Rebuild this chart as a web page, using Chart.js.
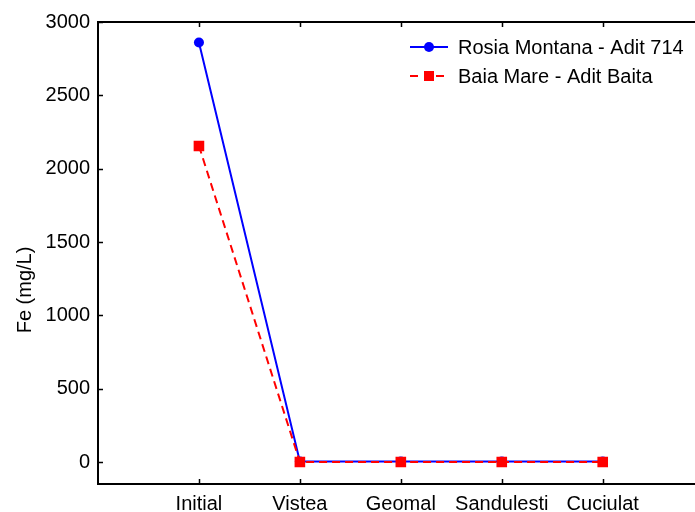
<!DOCTYPE html>
<html>
<head>
<meta charset="utf-8">
<script src="https://cdn.jsdelivr.net/npm/chart.js@4.4.1/dist/chart.umd.min.js"></script>
<style>
  html, body { margin: 0; padding: 0; background: #fff; }
  #wrap { width: 695px; height: 512px; }
</style>
</head>
<body>
<div id="wrap"><canvas id="myChart" width="695" height="512"></canvas></div>
<script>
// data
const categories = ['Initial', 'Vistea', 'Geomal', 'Sandulesti', 'Cuciulat'];
const rosiaValues = [2860, 3, 3, 3, 3];   // Rosia Montana - Adit 714
const baiaValues = [2155, 0, 0, 0, 0];    // Baia Mare - Adit Baita
const yTickValues = [0, 500, 1000, 1500, 2000, 2500, 3000];

const FONT = 'Arial, "Liberation Sans", sans-serif';

function toPoints(values) {
    return values.map((v, i) => ({ x: i + 1, y: v }));
}

// axes frame, inward ticks, legend and y title
const framePlugin = {
    id: 'frame',
    afterDraw(chart) {
        const ctx = chart.ctx;
        const area = chart.chartArea;
        const xs = chart.scales.x;
        const ys = chart.scales.y;
        ctx.save();
        ctx.strokeStyle = '#000';
        ctx.lineWidth = 2;
        ctx.beginPath();
        ctx.moveTo(area.left, area.top);
        ctx.lineTo(chart.width, area.top);
        ctx.moveTo(area.left, area.top - 1);
        ctx.lineTo(area.left, area.bottom + 1);
        ctx.moveTo(area.left, area.bottom);
        ctx.lineTo(chart.width, area.bottom);
        ctx.stroke();

        ctx.lineWidth = 1.5;
        ctx.beginPath();
        yTickValues.forEach(v => {
            const y = Math.round(ys.getPixelForValue(v)) + 0.5;
            ctx.moveTo(area.left, y);
            ctx.lineTo(area.left + 5, y);
        });
        categories.forEach((c, i) => {
            const x = Math.round(xs.getPixelForValue(i + 1)) + 0.5;
            ctx.moveTo(x, area.bottom);
            ctx.lineTo(x, area.bottom - 5);
            ctx.moveTo(x, area.top);
            ctx.lineTo(x, area.top + 5);
        });
        ctx.stroke();

        // legend
        const items = chart.data.datasets.slice().sort((a, b) => b.order - a.order);
        items.forEach((ds, i) => {
            const y = 47 + i * 29;
            ctx.strokeStyle = ds.borderColor;
            ctx.lineWidth = 2;
            ctx.setLineDash(ds.borderDash || []);
            ctx.beginPath();
            ctx.moveTo(410, y);
            ctx.lineTo(448, y);
            ctx.stroke();
            ctx.setLineDash([]);
            ctx.fillStyle = ds.pointBackgroundColor;
            if (ds.pointStyle === 'rect') {
                ctx.fillStyle = '#fff';
                ctx.fillRect(421, y - 6, 14, 12);
                ctx.fillStyle = ds.pointBackgroundColor;
                ctx.fillRect(424, y - 5, 10, 10);
            } else {
                ctx.beginPath();
                ctx.arc(429, y, 5, 0, Math.PI * 2);
                ctx.fill();
            }
            ctx.fillStyle = '#000';
            ctx.font = '20px ' + FONT;
            ctx.textAlign = 'left';
            ctx.textBaseline = 'middle';
            ctx.fillText(ds.label, 458, y + 1);
        });

        // y axis title
        ctx.translate(25, 290);
        ctx.rotate(-Math.PI / 2);
        ctx.fillStyle = '#000';
        ctx.font = '20px ' + FONT;
        ctx.textAlign = 'center';
        ctx.textBaseline = 'middle';
        ctx.fillText('Fe (mg/L)', 0, 0);
        ctx.restore();
    }
};

const ctx = document.getElementById('myChart').getContext('2d');
const myChart = new Chart(ctx, {
    type: 'line',
    data: {
        datasets: [
            {
                label: 'Rosia Montana - Adit 714',
                data: toPoints(rosiaValues),
                borderColor: '#0000ff',
                backgroundColor: '#0000ff',
                pointBackgroundColor: '#0000ff',
                pointBorderWidth: 0,
                pointStyle: 'circle',
                pointRadius: 5,
                borderWidth: 2,
                tension: 0,
                order: 1,
            },
            {
                label: 'Baia Mare - Adit Baita',
                data: toPoints(baiaValues),
                borderColor: '#ff0000',
                backgroundColor: '#ff0000',
                pointBackgroundColor: '#ff0000',
                pointBorderWidth: 0,
                pointStyle: 'rect',
                pointRadius: 7.5,
                borderWidth: 2,
                borderDash: [8, 5],
                tension: 0,
                order: 0,
            },
        ],
    },
    options: {
        responsive: false,
        animation: false,
        layout: { padding: { top: 22, left: 0, right: 0, bottom: 0 } },
        plugins: {
            legend: { display: false },
            tooltip: { enabled: false },
        },
        scales: {
            x: {
                type: 'linear',
                min: 0,
                max: 5.84,
                grid: { display: false, drawTicks: false },
                border: { display: false },
                afterFit: scale => {
                    scale.height = 28;
                    scale.paddingLeft = 0;
                    scale.paddingRight = 0;
                },
                afterBuildTicks: scale => {
                    scale.ticks = categories.map((c, i) => ({ value: i + 1 }));
                },
                ticks: {
                    padding: 8,
                    color: '#000',
                    font: { family: FONT, size: 20 },
                    maxRotation: 0,
                    autoSkip: false,
                    callback: v => categories[v - 1],
                },
            },
            y: {
                min: -150,
                max: 3000,
                grid: { display: false, drawTicks: false },
                border: { display: false },
                afterFit: scale => { scale.width = 98; },
                afterBuildTicks: scale => {
                    scale.ticks = yTickValues.map(v => ({ value: v }));
                },
                ticks: {
                    padding: 8,
                    color: '#000',
                    font: { family: FONT, size: 20 },
                    callback: v => String(v),
                },
            },
        },
    },
    plugins: [framePlugin],
});
</script>
</body>
</html>
